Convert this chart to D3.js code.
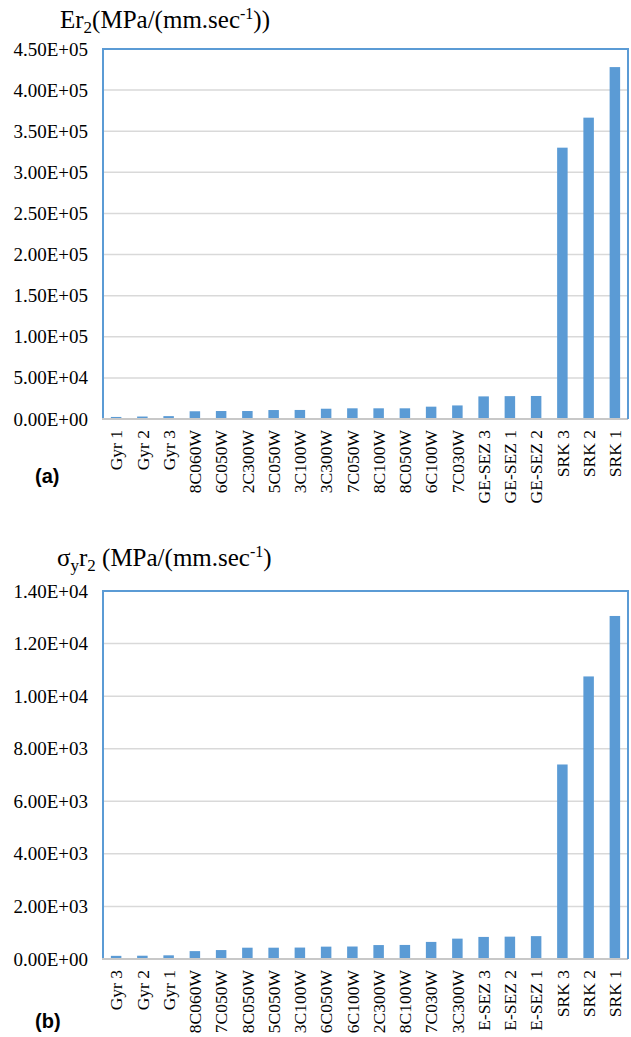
<!DOCTYPE html>
<html>
<head>
<meta charset="utf-8">
<script src="https://cdn.jsdelivr.net/npm/d3@7"></script>
<style>
  html, body { margin: 0; padding: 0; background: #fff; overflow: hidden; }
  svg { display: block; }
  .serif { font-family: "Liberation Serif", "Times New Roman", serif; }
</style>
</head>
<body>
<svg id="chart" width="631" height="1037"></svg>
<script>
// ---------- Data: chart (a) ----------
const categoriesA = ["Gyr 1","Gyr 2","Gyr 3","8C060W","6C050W","2C300W","5C050W","3C100W","3C300W","7C050W","8C100W","8C050W","6C100W","7C030W","GE-SEZ 3","GE-SEZ 1","GE-SEZ 2","SRK 3","SRK 2","SRK 1"];
const valuesA = [2500, 3000, 3500, 9400, 9700, 9700, 10900, 11000, 12500, 13000, 13000, 13000, 15000, 16500, 27500, 27800, 28000, 330000, 366500, 428000];
const tickValuesA = [0, 50000, 100000, 150000, 200000, 250000, 300000, 350000, 400000, 450000];
const tickLabelsA = ["0.00E+00","5.00E+04","1.00E+05","1.50E+05","2.00E+05","2.50E+05","3.00E+05","3.50E+05","4.00E+05","4.50E+05"];

// ---------- Data: chart (b) (labels as visible in the reference) ----------
const categoriesB = ["Gyr 3","Gyr 2","Gyr 1","8C060W","7C050W","8C050W","5C050W","3C100W","6C050W","6C100W","2C300W","8C100W","7C030W","3C300W","E-SEZ 3","E-SEZ 2","E-SEZ 1","SRK 3","SRK 2","SRK 1"];
const valuesB = [120, 125, 140, 300, 340, 430, 430, 435, 470, 475, 530, 535, 650, 775, 840, 850, 870, 7400, 10750, 13050];
const tickValuesB = [0, 2000, 4000, 6000, 8000, 10000, 12000, 14000];
const tickLabelsB = ["0.00E+00","2.00E+03","4.00E+03","6.00E+03","8.00E+03","1.00E+04","1.20E+04","1.40E+04"];

const svg = d3.select("#chart");
const BLUE = "#5b9bd5";
const SERIF = "'Liberation Serif', 'Times New Roman', serif";

function drawChart(cfg) {
  const g = svg.append("g");
  const x = d3.scaleBand().domain(cfg.categories).range([cfg.left, cfg.right])
    .paddingInner(0.6).paddingOuter(0.3);
  const y = d3.scaleLinear().domain([0, cfg.max]).range([cfg.bottom, cfg.top]);

  // gridlines
  g.selectAll("line.grid").data(cfg.ticks.slice(1)).join("line")
    .attr("class", "grid")
    .attr("x1", cfg.left).attr("x2", cfg.right)
    .attr("y1", d => y(d)).attr("y2", d => y(d))
    .attr("stroke", "#d9d9d9").attr("stroke-width", 1.5);

  // y axis labels
  const yAxis = d3.axisLeft(y).tickValues(cfg.ticks)
    .tickFormat((d, i) => cfg.tickLabels[i]).tickSize(0).tickPadding(15);
  const ya = g.append("g").attr("transform", `translate(${cfg.left},0)`).call(yAxis);
  ya.attr("font-family", null).attr("font-size", null);
  ya.select(".domain").remove();
  ya.selectAll("text")
    .style("font-family", SERIF)
    .style("font-size", "19px").attr("fill", "#000");

  // bars
  g.selectAll("rect.bar").data(cfg.values).join("rect")
    .attr("class", "bar")
    .attr("x", (d, i) => x(cfg.categories[i]))
    .attr("width", x.bandwidth())
    .attr("y", d => y(d))
    .attr("height", d => cfg.bottom - y(d))
    .attr("fill", BLUE);

  // x axis line
  g.append("line")
    .attr("x1", cfg.left - 1).attr("x2", cfg.right)
    .attr("y1", cfg.bottom).attr("y2", cfg.bottom)
    .attr("stroke", "#c8c8c8").attr("stroke-width", 2);

  // plot border (top, left, right) in blue
  g.append("path")
    .attr("d", `M${cfg.left},${cfg.bottom - 1}V${cfg.top}H${cfg.right}V${cfg.bottom}`)
    .attr("fill", "none").attr("stroke", BLUE).attr("stroke-width", 2);

  // category labels
  const xAxis = d3.axisBottom(x).tickSize(0).tickPadding(0);
  const xa = g.append("g").attr("transform", `translate(0,${cfg.bottom})`).call(xAxis);
  xa.attr("font-family", null).attr("font-size", null);
  xa.select(".domain").remove();
  xa.selectAll("text")
    .style("font-family", SERIF)
    .style("font-size", "17.5px").attr("fill", "#000")
    .attr("text-anchor", "end")
    .attr("transform", "rotate(-90)")
    .attr("x", -11).attr("y", 0).attr("dy", "0.35em");

  // panel label
  g.append("text").attr("x", 35).attr("y", cfg.panelY)
    .style("font-family", "'Liberation Sans', Arial, sans-serif")
    .attr("font-weight", "bold").style("font-size", "20px").text(cfg.panel);
}

drawChart({categories: categoriesA, values: valuesA, ticks: tickValuesA, tickLabels: tickLabelsA,
  max: 450000, left: 103, right: 628, top: 49, bottom: 419, panel: "(a)", panelY: 483});
drawChart({categories: categoriesB, values: valuesB, ticks: tickValuesB, tickLabels: tickLabelsB,
  max: 14000, left: 103, right: 628, top: 591, bottom: 959, panel: "(b)", panelY: 1028});

// titles
const tA = svg.append("text").attr("x", 60).attr("y", 28)
  .style("font-family", SERIF).style("font-size", "25px").attr("fill", "#000");
tA.append("tspan").text("Er");
tA.append("tspan").style("font-size", "17px").attr("dy", 5).text("2");
tA.append("tspan").attr("dy", -5).text("(MPa/(mm.sec");
tA.append("tspan").style("font-size", "16px").attr("dy", -9).text("-1");
tA.append("tspan").attr("dy", 9).text("))");

const tB = svg.append("text").attr("x", 57).attr("y", 566)
  .style("font-family", SERIF).style("font-size", "25px").attr("fill", "#000");
tB.append("tspan").text("σ");
tB.append("tspan").style("font-size", "17px").attr("dy", 5).text("y");
tB.append("tspan").attr("dy", -5).text("r");
tB.append("tspan").style("font-size", "17px").attr("dy", 5).text("2");
tB.append("tspan").attr("dy", -5).text(" (MPa/(mm.sec");
tB.append("tspan").style("font-size", "16px").attr("dy", -9).text("-1");
tB.append("tspan").attr("dy", 9).text(")");
</script>
</body>
</html>
